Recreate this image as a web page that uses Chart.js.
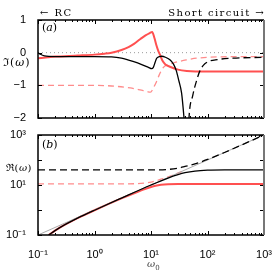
<!DOCTYPE html>
<html>
<head>
<meta charset="utf-8">
<script src="https://cdn.jsdelivr.net/npm/chart.js@4/dist/chart.umd.min.js"></script>
<style>
  body { margin: 0; background: #fff; }
  #wrap { position: relative; width: 278px; height: 271px; font-family: "DejaVu Serif", serif; }
  canvas { position: absolute; left: 0; }
  .lbl { position: absolute; white-space: nowrap; color: #000; line-height: 1; }
</style>
</head>
<body>
<div id="wrap">
  <canvas id="imChart" width="278" height="122" style="top:0"></canvas>
  <canvas id="reChart" width="278" height="149" style="top:122px"></canvas>
  <div class="lbl" style="left:40px; top:8px; font-size:10px; letter-spacing:1.5px;">← RC</div>
  <div class="lbl" style="right:13px; top:8px; font-size:10px; letter-spacing:1.4px;">Short circuit →</div>
  <div class="lbl" style="left:42px; top:22px; font-size:11px;">(<i>a</i>)</div>
  <div class="lbl" style="left:42px; top:139px; font-size:11px;">(<i>b</i>)</div>
  <div class="lbl" style="left:3px; top:57px; font-size:11px; letter-spacing:1px;">ℑ(<i>ω</i>)</div>
  <div class="lbl" style="left:6px; top:163px; font-size:10px; letter-spacing:0.5px;">ℜ(<i>ω</i>)</div>
  <div class="lbl" style="left:147px; top:259px; font-size:10px; color:#444;"><i>ω</i><sub style="font-size:7px">0</sub></div>
</div>
<script>
// (a) 허수부 - 각 곡선의 ω 값과 읽은 값
var imRedW      = [0.1, 0.15, 0.2, 0.3, 0.5, 1, 1.5, 2, 3, 4, 5, 6.5, 8, 9.5, 10.5, 11.5, 12.5, 13.5, 14.5, 16, 18, 21.6, 30, 43, 100, 1000];
var imRed       = [-0.17, -0.14, -0.12, -0.11, -0.09, -0.06, -0.03, 0.0, 0.08, 0.17, 0.27, 0.42, 0.53, 0.6, 0.63, 0.45, 0.22, 0.05, -0.07, -0.25, -0.36, -0.43, -0.52, -0.56, -0.58, -0.58];
var imBlackW    = [0.1, 0.11, 0.13, 0.2, 0.5, 1, 2, 3, 4.8, 7.2, 9, 10.3, 11, 11.8, 12.6, 14, 15.5, 18, 21.6, 25, 28, 31, 34.8, 38.4, 40];
var imBlack     = [0.0, -0.05, -0.1, -0.12, -0.12, -0.12, -0.13, -0.17, -0.27, -0.38, -0.45, -0.49, -0.45, -0.3, -0.17, -0.12, -0.11, -0.14, -0.22, -0.35, -0.55, -0.85, -1.24, -2.0, -2.4];
var imBlackDashW = [46, 47, 55, 63, 73.6, 85, 104, 150, 282, 1000];
var imBlackDash  = [-2.4, -2.0, -1.3, -0.9, -0.55, -0.38, -0.27, -0.21, -0.17, -0.14];
var imRedDashW  = [0.1, 1, 2, 4.3, 6.4, 8.5, 9.8, 11, 12.5, 14, 16.6, 20, 24.5, 35, 43, 64, 146, 1000];
var imRedDash   = [-1.0, -1.0, -1.02, -1.08, -1.14, -1.19, -1.21, -1.08, -0.89, -0.68, -0.45, -0.37, -0.32, -0.25, -0.22, -0.17, -0.13, -0.12];

// (b) 실수부
var reBlackW    = [0.155, 0.2, 0.3, 0.5, 1, 3, 10, 20, 30, 40, 60, 100, 200, 1000];
var reBlack     = [0.1, 0.15, 0.26, 0.47, 0.98, 3, 10, 19, 26, 31, 36, 39, 40, 40];
var reBlackDashW = [0.1, 10, 20, 30, 40, 60, 100, 200, 1000];
var reBlackDash  = [40, 40, 42, 47, 55, 70, 105, 200, 1000];
var reRedW      = [0.155, 0.2, 0.3, 0.5, 1, 3, 6, 8, 10, 12, 15, 20, 30, 1000];
var reRed       = [0.1, 0.15, 0.26, 0.47, 0.98, 2.9, 5.5, 7, 8.3, 9.3, 10.2, 10.8, 11, 11];
var reRedDashW  = [0.1, 5, 8, 10, 12, 15, 20, 30, 40];
var reRedDash   = [11, 11.2, 12, 13, 14.5, 17, 21, 30, 40];
var refW        = [0.1, 1000];
var refLine     = [0.1, 1000];

var xTickValues = [];
for (var e = -1; e < 3; e++) {
    for (var m = 1; m < 10; m++) xTickValues.push(m * Math.pow(10, e));
}
xTickValues.push(1000);
var reTickValues = [0.1, 1, 10, 100, 1000];
var imTickValues = [-2, -1, 0, 1];

var supers = {'-': '⁻', '0': '⁰', '1': '¹', '2': '²', '3': '³'};
function isDecade(v) {
    var l = Math.log10(v);
    return Math.abs(l - Math.round(l)) < 1e-6;
}
function powLabel(v) {
    var p = String(Math.round(Math.log10(v)));
    return '10' + p.split('').map(function(c) { return supers[c]; }).join('');
}
function pts(xs, ys) {
    return xs.map(function(x, i) { return {x: x, y: ys[i]}; });
}
function line(xs, ys, color, width, dash) {
    return {
        data: pts(xs, ys), borderColor: color, borderWidth: width,
        borderDash: dash || [], pointRadius: 0, showLine: true,
        cubicInterpolationMode: 'monotone', fill: false
    };
}

var RED = 'rgb(255,80,80)';
var RED_LIGHT = 'rgb(255,140,140)';
var tickFont = {family: 'Liberation Sans', size: 11};

// 안쪽으로 향하는 눈금과 테두리
var frameTicks = {
    id: 'frameTicks',
    afterDraw: function(chart) {
        var ctx = chart.ctx, a = chart.chartArea;
        ctx.save();
        ctx.strokeStyle = '#000';
        ctx.lineWidth = 1;
        var xs = chart.scales.x, ys = chart.scales.y;
        ctx.beginPath();
        xs.ticks.forEach(function(t) {
            var px = Math.round(xs.getPixelForValue(t.value)) + 0.5;
            var len = isDecade(t.value) ? 4 : 2;
            ctx.moveTo(px, a.bottom); ctx.lineTo(px, a.bottom - len);
            ctx.moveTo(px, a.top); ctx.lineTo(px, a.top + len);
        });
        ys.ticks.forEach(function(t) {
            var py = Math.round(ys.getPixelForValue(t.value)) + 0.5;
            ctx.moveTo(a.left, py); ctx.lineTo(a.left + 4, py);
            ctx.moveTo(a.right, py); ctx.lineTo(a.right - 4, py);
        });
        ctx.stroke();
        ctx.lineWidth = 1.5;
        ctx.beginPath();
        ctx.moveTo(a.right, a.top); ctx.lineTo(a.left, a.top);
        ctx.lineTo(a.left, a.bottom); ctx.lineTo(a.right, a.bottom);
        ctx.stroke();
        ctx.strokeStyle = '#777';
        ctx.lineWidth = 2;
        ctx.beginPath();
        ctx.moveTo(a.right, a.top); ctx.lineTo(a.right, a.bottom);
        ctx.stroke();
        ctx.restore();
    }
};

function logX(showLabels, height) {
    return {
        type: 'logarithmic', min: 0.1, max: 1000,
        afterBuildTicks: function(s) { s.ticks = xTickValues.map(function(v) { return {value: v}; }); },
        ticks: {
            display: showLabels, autoSkip: false, maxRotation: 0, padding: 5,
            font: tickFont, color: '#000',
            callback: function(v) { return isDecade(v) ? powLabel(v) : ''; }
        },
        grid: {display: false}, border: {display: false},
        afterFit: function(s) {
            s.height = height;
            s.paddingLeft = 0; s.paddingRight = 0;
        }
    };
}
function fitY(s) {
    s.width = 38;
    s.paddingTop = 0; s.paddingBottom = 0;
}

var imChart = new Chart(document.getElementById('imChart').getContext('2d'), {
    type: 'scatter',
    data: {
        datasets: [
            line(imBlackW, imBlack, '#000', 1.3),
            line(imBlackDashW, imBlackDash, '#000', 1.3, [7, 4]),
            line(imRedW, imRed, RED, 2),
            line(imRedDashW, imRedDash, RED_LIGHT, 1.3, [6, 4]),
            line(refW, [0, 0], '#999', 1, [1, 3])
        ]
    },
    options: {
        responsive: false, animation: false, devicePixelRatio: 1,
        layout: {padding: {top: 20, right: 14, left: 0, bottom: 0}},
        plugins: {legend: {display: false}, tooltip: {enabled: false}},
        scales: {
            x: logX(false, 4),
            y: {
                min: -2, max: 1,
                afterBuildTicks: function(s) { s.ticks = imTickValues.map(function(v) { return {value: v}; }); },
                ticks: {
                    font: tickFont, color: '#000', padding: 4,
                    callback: function(v) { return v < 0 ? '−' + Math.abs(v) : String(v); }
                },
                grid: {display: false}, border: {display: false},
                afterFit: fitY
            }
        }
    },
    plugins: [frameTicks]
});

var reChart = new Chart(document.getElementById('reChart').getContext('2d'), {
    type: 'scatter',
    data: {
        datasets: [
            line(reBlackW, reBlack, '#000', 1.3),
            line(reBlackDashW, reBlackDash, '#000', 1.3, [7, 4]),
            line(refW, refLine, '#aaa', 1),
            line(reRedW, reRed, RED, 2),
            line(reRedDashW, reRedDash, RED_LIGHT, 1.3, [6, 4])
        ]
    },
    options: {
        responsive: false, animation: false, devicePixelRatio: 1,
        layout: {padding: {top: 13, right: 14, left: 0, bottom: 0}},
        plugins: {legend: {display: false}, tooltip: {enabled: false}},
        scales: {
            x: logX(true, 36),
            y: {
                type: 'logarithmic', min: 0.1, max: 1000,
                afterBuildTicks: function(s) { s.ticks = reTickValues.map(function(v) { return {value: v}; }); },
                ticks: {
                    font: tickFont, color: '#000', padding: 4, autoSkip: false,
                    callback: function(v) {
                        var p = Math.round(Math.log10(v));
                        return (p % 2 !== 0) ? powLabel(v) : '';
                    }
                },
                grid: {display: false}, border: {display: false},
                afterFit: fitY
            }
        }
    },
    plugins: [frameTicks]
});
</script>
</body>
</html>
